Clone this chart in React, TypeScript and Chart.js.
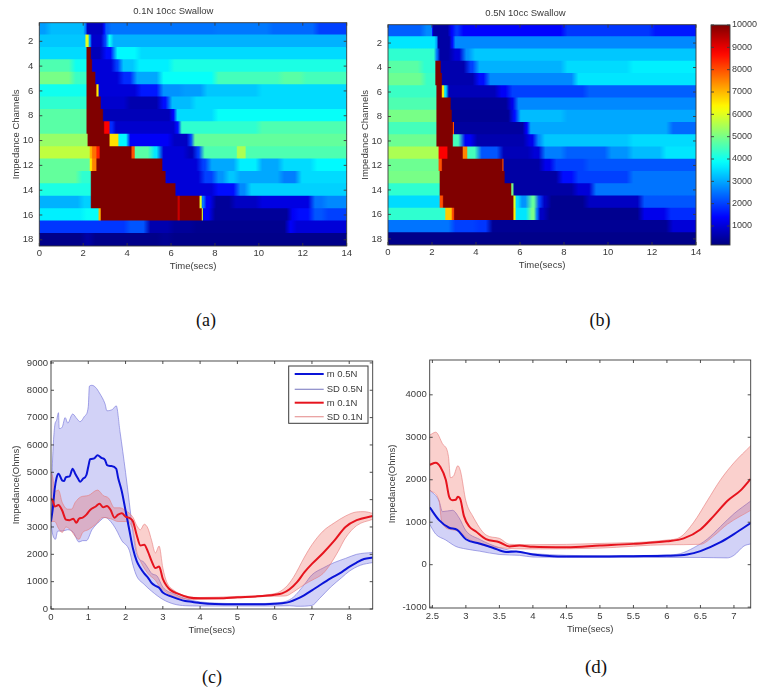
import React, { useEffect, useRef } from "react";
import { Chart, registerables } from "chart.js";

Chart.register(...registerables);

type Run = [number, number];
type Pt = [number, number];

const channels = ["1","2","3","4","5","6","7","8","9","10","11","12","13","14","15","16","17","18"];

// Each row: runs of [end time in secs, impedance]
const swallow01N: Run[][] = [
  [[0.4,2900],[2.05,3200],[2.15,2500],[2.9,800],[3.0,1500],[3.2,2300],[8,2500],[10.5,2550],[12.6,2400],[14,2000]],
  [[2.1,3300],[2.25,6000],[2.35,3000],[2.9,900],[3.1,2000],[3.3,3900],[14,3100]],
  [[2.15,3500],[2.35,10000],[2.9,700],[3.4,1500],[4.5,3800],[14,3500]],
  [[1.5,4600],[2.15,4000],[2.4,10000],[3.4,1000],[3.7,2000],[4.4,3300],[6,3700],[14,4100]],
  [[1.5,5000],[2.15,4400],[2.55,10000],[3.7,1000],[4.3,1800],[5.5,3000],[8,3900],[11,4500],[12,4700],[14,4500]],
  [[2.15,4000],[2.6,10000],[2.7,6500],[4.5,1000],[5.5,1600],[6.5,2800],[7.5,2900],[10,3300],[14,3500]],
  [[2.15,4300],[2.8,10000],[4,900],[5.5,600],[5.9,1500],[7,3200],[14,3500]],
  [[2.15,4700],[2.9,10000],[6,700],[6.2,1400],[8,3500],[14,3900]],
  [[2.15,4700],[2.95,10000],[3.2,8800],[3.4,1800],[6.2,900],[6.4,1500],[10,4300],[14,4600]],
  [[2.2,5300],[3.2,10000],[3.6,6600],[4,3800],[4.1,2500],[6,1300],[6.8,800],[7,2000],[14,4800]],
  [[2.3,5700],[2.4,7000],[2.6,7700],[2.75,8500],[4.2,10000],[4.35,8000],[5.1,4700],[5.5,3600],[6.7,1000],[7.1,700],[7.4,2000],[9,4600],[9.4,5500],[14,4600]],
  [[2.3,4800],[2.4,6500],[2.6,7500],[5.6,10000],[7.3,1000],[7.7,2000],[9,3000],[10,3700],[11,3000],[12.5,3500],[14,3800]],
  [[1.8,4800],[2.35,4300],[5.75,10000],[7.4,1000],[8,2000],[8.5,2800],[9,3300],[11,3000],[11.8,2600],[14,3500]],
  [[2.35,4100],[6.2,10000],[8,1000],[9,1500],[9.5,2700],[14,3400]],
  [[1.9,3100],[2.35,3400],[6.3,10000],[6.4,9300],[7.3,10000],[7.4,6000],[7.55,2500],[7.9,1300],[8.8,400],[10,800],[12.4,1100],[13,2500],[14,2700]],
  [[2,3700],[2.7,3900],[2.8,7000],[6.3,10000],[6.4,9300],[7.4,10000],[7.45,6000],[7.85,1300],[11.4,400],[11.7,1300],[12.4,1500],[13,2200],[14,2000]],
  [[4,1900],[4.9,2200],[6,600],[7,400],[11.3,300],[11.6,1300],[14,1000]],
  [[2,250],[2.4,500],[5.5,250],[6,350],[14,250]],
];

const swallow05N: Run[][] = [
  [[1.6,2300],[2,2700],[2.05,1500],[2.8,500],[3,1400],[3.3,1900],[8,1400],[12,1900],[14,1600]],
  [[2.15,3600],[2.25,3000],[2.85,500],[3,1500],[14,2700]],
  [[2.15,4300],[2.3,2500],[2.9,500],[3.4,1000],[3.8,2800],[14,3300]],
  [[1.5,4700],[2.15,4300],[2.4,10000],[3.6,600],[4,2000],[8,3100],[11,3500],[14,3700]],
  [[1.6,4900],[2.15,4400],[2.45,10000],[4,600],[4.5,1500],[8.5,2700],[14,3600]],
  [[2.2,4400],[2.45,10000],[2.55,6500],[2.7,3500],[5,700],[5.5,1300],[9,2000],[14,2300]],
  [[2.2,4600],[2.85,10000],[5.5,400],[5.8,1200],[14,2700]],
  [[2.2,5000],[2.9,10000],[5.6,350],[5.9,1500],[8,3200],[14,3000]],
  [[2.2,4500],[2.95,10000],[3,8000],[6.2,450],[6.4,1300],[12.8,3000],[14,2400]],
  [[2.2,4900],[2.95,10000],[3.35,4500],[3.9,1300],[6.3,600],[6.7,1200],[7,2700],[11,3300],[14,3500]],
  [[2.3,5500],[2.7,8800],[3.4,10000],[3.6,7500],[4.1,4500],[5.1,2200],[6.5,700],[7,1000],[8,2600],[10,2300],[11,2800],[12.5,3200],[14,3600]],
  [[2.3,4900],[2.45,8000],[5.2,10000],[5.25,8000],[7,500],[7.5,1200],[9,2000],[14,2200]],
  [[2.35,5000],[5.3,10000],[7.8,500],[8.5,1500],[11,2000],[14,2500]],
  [[2.35,4300],[5.6,10000],[5.7,5000],[8.5,500],[9.3,1000],[14,2500]],
  [[2.35,3500],[2.5,8000],[5.7,10000],[5.8,6000],[6,3500],[6.4,2800],[6.75,4800],[7,2000],[7.3,800],[9,300],[11.5,800],[14,2200]],
  [[2.6,4300],[2.9,6800],[3,8000],[5.7,10000],[5.8,6500],[6.4,3600],[6.7,5000],[6.85,2500],[7.2,800],[11.5,300],[12.7,1200],[14,1800]],
  [[2.9,2500],[4,2000],[4.6,1900],[12.8,350],[14,1000]],
  [[14,250]],
];

const colorbarLevels = [150,400,650,900,1150,1400,1650,1900,2150,2400,2650,2900,3150,3400,3650,3900,4150,4400,4650,4900,5150,5400,5650,5900,6150,6400,6650,6900,7150,7400,7650,7900,8150,8400,8650,8900,9150,9400,9650,10000];
const colorbarTicks = [1000,2000,3000,4000,5000,6000,7000,8000,9000,10000];
const heatTimeTicks = [0,2,4,6,8,10,12,14];
const cTimeTicks = [0,1,2,3,4,5,6,7,8];
const cImpedanceTicks = [0,1000,2000,3000,4000,5000,6000,7000,8000,9000];
const dTimeTicks = [2.5,3,3.5,4,4.5,5,5.5,6,6.5,7];
const dImpedanceTicks = [-1000,0,1000,2000,3000,4000];

const cBlueMean: Pt[] = [[0,3200],[0.05,3700],[0.1,4400],[0.15,4800],[0.2,4950],[0.3,4700],[0.35,4680],[0.4,4820],[0.5,4850],[0.58,5130],[0.65,4950],[0.72,4780],[0.78,4650],[0.85,4750],[0.95,4900],[1,5200],[1.05,5480],[1.15,5500],[1.25,5620],[1.35,5530],[1.45,5450],[1.5,5270],[1.6,5230],[1.75,5130],[1.8,4800],[1.9,4300],[2,3600],[2.1,2900],[2.2,2200],[2.3,1750],[2.4,1500],[2.5,1300],[2.6,1150],[2.7,950],[2.8,850],[2.9,780],[3,600],[3.2,470],[3.4,370],[3.6,290],[3.8,260],[4,220],[4.4,180],[5,170],[5.5,170],[6,190],[6.2,210],[6.4,260],[6.6,370],[6.8,510],[7,680],[7.2,860],[7.5,1120],[7.8,1350],[8,1540],[8.2,1700],[8.4,1830],[8.63,1880]];
const cBlueUpper: Pt[] = [[0,3300],[0.03,5000],[0.1,6700],[0.15,6900],[0.2,7180],[0.22,6600],[0.3,6650],[0.38,7000],[0.45,6800],[0.58,7130],[0.7,6950],[0.78,6850],[0.9,7050],[1,7400],[1.03,8150],[1.1,8180],[1.2,8100],[1.3,7900],[1.45,7500],[1.5,7250],[1.65,7300],[1.75,7430],[1.85,6500],[2,5000],[2.1,3900],[2.2,2800],[2.3,2000],[2.5,1700],[2.6,1500],[2.7,1300],[2.85,1200],[3,800],[3.3,550],[3.6,380],[3.8,310],[4,260],[4.5,210],[5,200],[5.5,200],[6,220],[6.3,280],[6.5,430],[6.8,900],[7,1250],[7.3,1500],[7.6,1700],[7.9,1850],[8.2,2000],[8.63,2070]];
const cBlueLower: Pt[] = [[0,3100],[0.05,2700],[0.12,2550],[0.18,2850],[0.3,2850],[0.45,2900],[0.6,2800],[0.75,2450],[0.85,2500],[0.95,2500],[1.1,2900],[1.3,3200],[1.45,3350],[1.6,3200],[1.75,2900],[1.9,2500],[2.1,2150],[2.2,1600],[2.3,1200],[2.5,900],[2.7,650],[3,350],[3.3,180],[3.6,120],[4,110],[5,110],[6,110],[6.4,120],[6.6,100],[7,130],[7.2,380],[7.5,800],[7.8,1150],[8,1380],[8.3,1600],[8.63,1700]];
const cRedMean: Pt[] = [[0,4050],[0.05,3950],[0.1,3750],[0.2,3800],[0.3,3600],[0.4,3270],[0.5,3250],[0.6,3300],[0.68,3150],[0.75,3300],[0.85,3340],[0.95,3450],[1.05,3620],[1.2,3750],[1.3,3850],[1.4,3720],[1.5,3770],[1.6,3620],[1.7,3340],[1.8,3450],[1.9,3500],[2,3380],[2.1,3330],[2.2,3200],[2.3,2700],[2.4,2320],[2.5,2350],[2.6,2100],[2.7,1750],[2.8,1500],[2.9,1550],[3,1100],[3.1,850],[3.2,700],[3.4,560],[3.7,420],[4,390],[4.5,390],[5,430],[5.5,460],[6,520],[6.2,570],[6.4,720],[6.6,980],[6.8,1350],[7,1650],[7.3,2050],[7.6,2500],[7.9,3000],[8.2,3250],[8.63,3400]];
const cRedUpper: Pt[] = [[0,5000],[0.05,4800],[0.1,4300],[0.2,4350],[0.3,3900],[0.45,3650],[0.55,3650],[0.65,3900],[0.8,4100],[1,4150],[1.25,4350],[1.4,4150],[1.55,4050],[1.7,3700],[1.85,3700],[2,3600],[2.2,3350],[2.3,3050],[2.4,2900],[2.5,3100],[2.6,2950],[2.7,2500],[2.8,2050],[2.9,2300],[3,1500],[3.1,1000],[3.3,680],[3.7,450],[4,420],[5,460],[6,560],[6.3,800],[6.5,1150],[6.8,1900],[7,2350],[7.3,2850],[7.6,3150],[7.9,3400],[8.2,3550],[8.4,3560],[8.63,3500]];
const cRedLower: Pt[] = [[0,3200],[0.1,3200],[0.2,2950],[0.3,2800],[0.4,3000],[0.55,2850],[0.65,2650],[0.75,2550],[0.85,2800],[1,2900],[1.2,3100],[1.4,3350],[1.6,3300],[1.8,3200],[2,3200],[2.2,2900],[2.3,2100],[2.4,1750],[2.6,1300],[2.8,1050],[2.9,850],[3.1,600],[3.3,450],[3.7,360],[4,350],[5,400],[6,470],[6.3,480],[6.5,620],[6.8,900],[7,1050],[7.3,1300],[7.5,1650],[7.7,2100],[7.9,2600],[8.2,3050],[8.63,3280]];

const dRedMean: Pt[] = [[2.46,2350],[2.55,2400],[2.62,2300],[2.7,2000],[2.75,1600],[2.8,1520],[2.85,1530],[2.88,1600],[2.92,1530],[2.97,1150],[3.05,900],[3.15,780],[3.3,600],[3.5,530],[3.65,430],[3.8,450],[4,420],[4.5,410],[5,450],[5.5,490],[6,550],[6.25,620],[6.5,830],[6.7,1150],[6.9,1500],[7.1,1750],[7.25,2020]];
const dRedUpper: Pt[] = [[2.46,3050],[2.55,3120],[2.65,2850],[2.74,2550],[2.77,2050],[2.82,2100],[2.88,2330],[2.92,2200],[3,1500],[3.1,1150],[3.3,700],[3.5,620],[3.65,480],[4,470],[5,500],[6,580],[6.2,650],[6.4,1000],[6.6,1500],[6.8,2000],[7,2400],[7.25,2800]];
const dRedLower: Pt[] = [[2.46,1750],[2.6,1500],[2.64,1000],[2.8,820],[2.9,780],[3,650],[3.2,480],[3.5,400],[4,370],[5,390],[6,470],[6.5,480],[6.7,680],[6.9,950],[7.25,1280]];
const dBlueMean: Pt[] = [[2.46,1350],[2.6,1050],[2.75,870],[2.87,820],[3,600],[3.2,500],[3.4,400],[3.6,300],[3.75,310],[4,240],[4.3,200],[4.7,190],[5,190],[5.5,200],[6,210],[6.3,240],[6.5,320],[6.8,530],[7,720],[7.25,980]];
const dBlueUpper: Pt[] = [[2.46,1760],[2.6,1500],[2.65,1250],[2.8,1280],[2.9,1100],[3,800],[3.2,600],[3.5,400],[3.8,300],[4,260],[5,210],[6,230],[6.2,260],[6.4,400],[6.6,600],[6.8,900],[7,1200],[7.25,1500]];
const dBlueLower: Pt[] = [[2.46,950],[2.55,720],[2.7,580],[2.85,430],[3,370],[3.2,320],[3.5,240],[3.8,220],[4,180],[5,170],[6,170],[6.5,170],[6.9,160],[7,220],[7.15,440],[7.25,490]];

const legendLabels = ["m 0.5N", "SD 0.5N", "m 0.1N", "SD 0.1N"];

const INK = "#3a3a3a";
const FONT = "'Liberation Sans', Arial, sans-serif";
const BLUE = "#0a14d8";
const RED = "#e6141e";
const BLUE_EDGE = "rgba(110,110,215,0.75)";
const RED_EDGE = "rgba(230,120,120,0.75)";
const BLUE_FILL = "rgba(90,90,225,0.27)";
const RED_FILL = "rgba(235,80,70,0.27)";

const clamp01 = (n: number) => Math.max(0, Math.min(1, n));
function jet(v: number) {
  const n = clamp01((v - 150) / 9850);
  const r = clamp01(Math.min(4 * n - 1.5, -4 * n + 4.5));
  const g = clamp01(Math.min(4 * n - 0.5, -4 * n + 3.5));
  const b = clamp01(Math.min(4 * n + 0.5, -4 * n + 2.5));
  return `rgb(${Math.round(r * 255)},${Math.round(g * 255)},${Math.round(b * 255)})`;
}

const framePlugin = {
  id: "frame",
  afterDraw(chart: any) {
    const { ctx, chartArea: a, scales } = chart;
    const len = 3;
    ctx.save();
    ctx.strokeStyle = INK;
    ctx.lineWidth = 0.9;
    ctx.strokeRect(a.left, a.top, a.right - a.left, a.bottom - a.top);
    ctx.beginPath();
    const sx = scales.x;
    if (sx && sx.options.display !== false) {
      sx.ticks.forEach((t: any, i: number) => {
        if (t.label === "") return;
        const p = sx.getPixelForTick(i);
        ctx.moveTo(p, a.bottom); ctx.lineTo(p, a.bottom - len);
        ctx.moveTo(p, a.top); ctx.lineTo(p, a.top + len);
      });
    }
    const sy = scales.y;
    sy.ticks.forEach((t: any, i: number) => {
      if (t.label === "") return;
      const p = sy.getPixelForTick(i);
      ctx.moveTo(a.left, p); ctx.lineTo(a.left + len, p);
      ctx.moveTo(a.right, p); ctx.lineTo(a.right - len, p);
    });
    ctx.stroke();
    ctx.restore();
  },
};

const legendPlugin = {
  id: "boxLegend",
  afterDraw(chart: any) {
    const { ctx, chartArea: a } = chart;
    const bx = a.left + 237.7, by = a.top + 5, bw = 79.3, bh = 57.3;
    ctx.save();
    ctx.fillStyle = "#fff";
    ctx.fillRect(bx, by, bw, bh);
    ctx.strokeStyle = INK;
    ctx.lineWidth = 1;
    ctx.strokeRect(bx, by, bw, bh);
    const styles = [
      { c: BLUE, w: 2 },
      { c: "#8a8ac8", w: 1.2 },
      { c: RED, w: 2 },
      { c: "#e89a9a", w: 1.2 },
    ];
    const ys = [8, 23.3, 36.7, 50.7];
    ctx.font = `9.5px ${FONT}`;
    ctx.textBaseline = "middle";
    legendLabels.forEach((label, i) => {
      const y = by + ys[i];
      ctx.strokeStyle = styles[i].c;
      ctx.lineWidth = styles[i].w;
      ctx.beginPath();
      ctx.moveTo(bx + 6, y);
      ctx.lineTo(bx + 35, y);
      ctx.stroke();
      ctx.fillStyle = INK;
      ctx.fillText(label, bx + 38, y + 0.5);
    });
    ctx.restore();
  },
};

function fitY(width: number) {
  return (s: any) => {
    s.width = width;
    s.paddingTop = 0;
    s.paddingBottom = 0;
  };
}
function fitX(height: number) {
  return (s: any) => {
    s.height = height;
    s.paddingLeft = 0;
    s.paddingRight = 0;
  };
}
const fixedTicks = (values: number[]) => (s: any) => {
  s.ticks = values.map((value) => ({ value }));
};

// A row's fill: its runs as colour stops on the time scale, softly blended except next to saturated cells.
function rowGradient(chart: any, runs: Run[]) {
  const sx = chart.scales.x;
  if (!sx || !Number.isFinite(sx.left) || !Number.isFinite(sx.right) || sx.right <= sx.left) return "transparent";
  const g = chart.ctx.createLinearGradient(sx.left, 0, sx.right, 0);
  const off = (t: number) => clamp01((t - sx.min) / (sx.max - sx.min));
  const lenOf = (k: number) => runs[k][0] - (k === 0 ? 0 : runs[k - 1][0]);
  const edge = (k: number) => {
    const sharp = runs[k][1] >= 5500 || runs[k + 1][1] >= 5500;
    return Math.min(sharp ? 0.03 : 0.16, 0.45 * Math.min(lenOf(k), lenOf(k + 1)));
  };
  runs.forEach((run, k) => {
    const start = k === 0 ? 0 : runs[k - 1][0];
    const from = k === 0 ? start : start + edge(k - 1);
    const to = k === runs.length - 1 ? run[0] : run[0] - edge(k);
    const c = jet(run[1]);
    g.addColorStop(off(from), c);
    g.addColorStop(off(to), c);
  });
  return g;
}

interface HeatOpts {
  rows: Run[][];
  title: string;
  axisW: number;
  axisH: number;
  titleX: number;
  titlePad: { top: number; bottom: number };
  rightPad: number;
  bottomTitlePad: number;
}

function heatConfig(o: HeatOpts) {
  const datasets = [
    {
      data: o.rows.map((r) => [0, r[r.length - 1][0]]),
      backgroundColor: (c: any) => (c.dataIndex === undefined ? "transparent" : rowGradient(c.chart, o.rows[c.dataIndex])),
      borderWidth: 0,
      inflateAmount: 0.6,
      barPercentage: 1,
      categoryPercentage: 1,
    },
  ];
  return {
    type: "bar",
    data: { labels: channels, datasets },
    options: {
      indexAxis: "y",
      animation: false,
      responsive: false,
      devicePixelRatio: 1,
      layout: { padding: { left: 0, top: 0, bottom: 0, right: o.rightPad } },
      plugins: {
        legend: { display: false },
        tooltip: { enabled: false },
        title: {
          display: true,
          text: o.title,
          color: INK,
          font: { family: FONT, size: 9.5, weight: "normal", lineHeight: 1.2 },
          padding: o.titlePad,
        },
      },
      scales: {
        x: {
          type: "linear",
          min: 0,
          max: 14,
          grid: { display: false, drawTicks: false },
          border: { display: false },
          afterFit: fitX(o.axisH),
          afterBuildTicks: fixedTicks(heatTimeTicks),
          ticks: { padding: 2, color: INK, autoSkip: false, maxRotation: 0, font: { family: FONT, size: 9.5 } },
          title: { display: true, text: "Time(secs)", color: INK, padding: { top: 0, bottom: o.bottomTitlePad }, font: { family: FONT, size: 9.5, lineHeight: 1.2 } },
        },
        y: {
          type: "category",
          grid: { display: false, drawTicks: false },
          border: { display: false },
          afterFit: fitY(o.axisW),
          ticks: {
            padding: 6,
            color: INK,
            autoSkip: false,
            font: { family: FONT, size: 9.5 },
            callback(this: any, v: any) {
              const l = this.getLabelForValue(v);
              return Number(l) % 2 === 0 ? l : "";
            },
          },
          title: { display: true, text: "Impedance Channels", color: INK, padding: { top: o.titleX, bottom: 0 }, font: { family: FONT, size: 9.5, lineHeight: 1.2 } },
        },
      },
    },
    plugins: [framePlugin],
  };
}

function colorbarConfig() {
  const first = colorbarLevels[0];
  const last = colorbarLevels[colorbarLevels.length - 1];
  const datasets = [
    {
      data: [[first, last]],
      backgroundColor: (c: any) => {
        const sy = c.chart.scales.y;
        if (!sy || !Number.isFinite(sy.top) || !Number.isFinite(sy.bottom) || sy.bottom <= sy.top) return "transparent";
        const g = c.chart.ctx.createLinearGradient(0, sy.bottom, 0, sy.top);
        colorbarLevels.forEach((v) => g.addColorStop((v - first) / (last - first), jet(v)));
        return g;
      },
      borderWidth: 0,
      barPercentage: 1,
      categoryPercentage: 1,
    },
  ];
  return {
    type: "bar",
    data: { labels: [""], datasets },
    options: {
      animation: false,
      responsive: false,
      devicePixelRatio: 1,
      layout: { padding: { left: 11, top: 10, bottom: 10, right: 0 } },
      plugins: { legend: { display: false }, tooltip: { enabled: false } },
      scales: {
        x: { display: false },
        y: {
          type: "linear",
          position: "right",
          min: first,
          max: last,
          grid: { display: false, drawTicks: false },
          border: { display: false },
          afterFit: fitY(34),
          afterBuildTicks: fixedTicks(colorbarTicks),
          ticks: { padding: 2, color: INK, autoSkip: false, font: { family: FONT, size: 9 }, callback: (v: any) => String(v) },
        },
      },
    },
    plugins: [framePlugin],
  };
}

const series = (pts: Pt[]) => pts.map(([x, y]) => ({ x, y }));

interface LineOpts {
  blue: [Pt[], Pt[], Pt[]];
  red: [Pt[], Pt[], Pt[]];
  xMin: number;
  xMax: number;
  xTicks: number[];
  yMin: number;
  yMax: number;
  yTicks: number[];
  axisW: number;
  axisH: number;
  pad: { left: number; top: number; right: number; bottom: number };
  yTitlePad: number;
  withLegend: boolean;
}

function lineConfig(o: LineOpts) {
  const band = (pts: Pt[], edge: string, fill: any, order: number) => ({
    data: series(pts),
    borderColor: edge,
    borderWidth: 0.8,
    pointRadius: 0,
    cubicInterpolationMode: "monotone",
    fill: fill ?? false,
    order,
  });
  const mean = (pts: Pt[], label: string, color: string, order: number) => ({
    data: series(pts),
    label,
    borderColor: color,
    borderWidth: 2,
    pointRadius: 0,
    cubicInterpolationMode: "monotone",
    fill: false,
    order,
  });
  const datasets = [
    { ...band(o.blue[2], BLUE_EDGE, null, 4), label: "SD 0.5N lower" },
    { ...band(o.blue[1], BLUE_EDGE, { target: 0, above: BLUE_FILL, below: BLUE_FILL }, 4), label: legendLabels[1] },
    { ...band(o.red[2], RED_EDGE, null, 3), label: "SD 0.1N lower" },
    { ...band(o.red[1], RED_EDGE, { target: 2, above: RED_FILL, below: RED_FILL }, 3), label: legendLabels[3] },
    mean(o.blue[0], legendLabels[0], BLUE, 2),
    mean(o.red[0], legendLabels[2], RED, 1),
  ];
  return {
    type: "line",
    data: { datasets },
    options: {
      animation: false,
      responsive: false,
      devicePixelRatio: 1,
      layout: { padding: o.pad },
      plugins: { legend: { display: false }, tooltip: { enabled: false } },
      scales: {
        x: {
          type: "linear",
          min: o.xMin,
          max: o.xMax,
          grid: { display: false, drawTicks: false },
          border: { display: false },
          afterFit: fitX(o.axisH),
          afterBuildTicks: fixedTicks(o.xTicks),
          ticks: { padding: 3, color: INK, autoSkip: false, maxRotation: 0, font: { family: FONT, size: 9.5 }, callback: (v: any) => String(v) },
          title: { display: true, text: "Time(secs)", color: INK, padding: { top: 0, bottom: 1 }, font: { family: FONT, size: 9.5, lineHeight: 1.2 } },
        },
        y: {
          type: "linear",
          min: o.yMin,
          max: o.yMax,
          grid: { display: false, drawTicks: false },
          border: { display: false },
          afterFit: fitY(o.axisW),
          afterBuildTicks: fixedTicks(o.yTicks),
          ticks: { padding: 3, color: INK, autoSkip: false, font: { family: FONT, size: 9.5 }, callback: (v: any) => String(v) },
          title: { display: true, text: "Impedance(Ohms)", color: INK, padding: { top: o.yTitlePad, bottom: 0 }, font: { family: FONT, size: 9.5, lineHeight: 1.2 } },
        },
      },
    },
    plugins: o.withLegend ? [framePlugin, legendPlugin] : [framePlugin],
  };
}

function Panel({ left, top, width, height, blur, config }: { left: number; top: number; width: number; height: number; blur: number; config: () => any }) {
  const ref = useRef<HTMLCanvasElement | null>(null);
  useEffect(() => {
    const chart = new Chart(ref.current as HTMLCanvasElement, config());
    return () => chart.destroy();
  }, []);
  return (
    <canvas
      ref={ref}
      width={width}
      height={height}
      style={{ position: "absolute", left, top, width, height, filter: `blur(${blur}px)` }}
    />
  );
}

function Caption({ x, y, size, text }: { x: number; y: number; size: number; text: string }) {
  return (
    <div
      style={{
        position: "absolute",
        left: x,
        top: y,
        transform: "translate(-50%,-50%)",
        fontFamily: "'Liberation Serif', serif",
        fontSize: size,
        color: "#111",
      }}
    >
      {text}
    </div>
  );
}

export default function App() {
  return (
    <div style={{ position: "absolute", left: 0, top: 0, width: 764, height: 694, background: "#fff", overflow: "hidden" }}>
      <Panel
        left={0}
        top={0}
        width={360}
        height={272}
        blur={0.5}
        config={() =>
          heatConfig({ rows: swallow01N, title: "0.1N 10cc Swallow", axisW: 39.3, axisH: 26, titleX: 10.3, titlePad: { top: 6, bottom: 5.3 }, rightPad: 13.3, bottomTitlePad: 0.3 })
        }
      />
      <Panel
        left={355}
        top={0}
        width={350}
        height={272}
        blur={0.5}
        config={() =>
          heatConfig({ rows: swallow05N, title: "0.5N 10cc Swallow", axisW: 33, axisH: 27, titleX: 4.3, titlePad: { top: 8, bottom: 5.3 }, rightPad: 9, bottomTitlePad: 1 })
        }
      />
      <Panel left={700} top={15} width={64} height={240} blur={0.5} config={colorbarConfig} />
      <Panel
        left={0}
        top={350}
        width={380}
        height={287}
        blur={0.4}
        config={() =>
          lineConfig({
            blue: [cBlueMean, cBlueUpper, cBlueLower],
            red: [cRedMean, cRedUpper, cRedLower],
            xMin: 0,
            xMax: 8.63,
            xTicks: cTimeTicks,
            yMin: 0,
            yMax: 9070,
            yTicks: cImpedanceTicks,
            axisW: 51,
            axisH: 28,
            pad: { left: 0, top: 11, right: 7.3, bottom: 0 },
            yTitlePad: 11,
            withLegend: true,
          })
        }
      />
      <Panel
        left={385}
        top={350}
        width={379}
        height={286}
        blur={0.4}
        config={() =>
          lineConfig({
            blue: [dBlueMean, dBlueUpper, dBlueLower],
            red: [dRedMean, dRedUpper, dRedLower],
            xMin: 2.46,
            xMax: 7.25,
            xTicks: dTimeTicks,
            yMin: -1020,
            yMax: 4820,
            yTicks: dImpedanceTicks,
            axisW: 44.7,
            axisH: 28,
            pad: { left: 0, top: 10, right: 13.3, bottom: 0 },
            yTitlePad: 1.6,
            withLegend: false,
          })
        }
      />
      <Caption x={206} y={320} size={18} text="(a)" />
      <Caption x={600} y={320} size={18} text="(b)" />
      <Caption x={212} y={677} size={18} text="(c)" />
      <Caption x={596} y={667} size={19} text="(d)" />
    </div>
  );
}
